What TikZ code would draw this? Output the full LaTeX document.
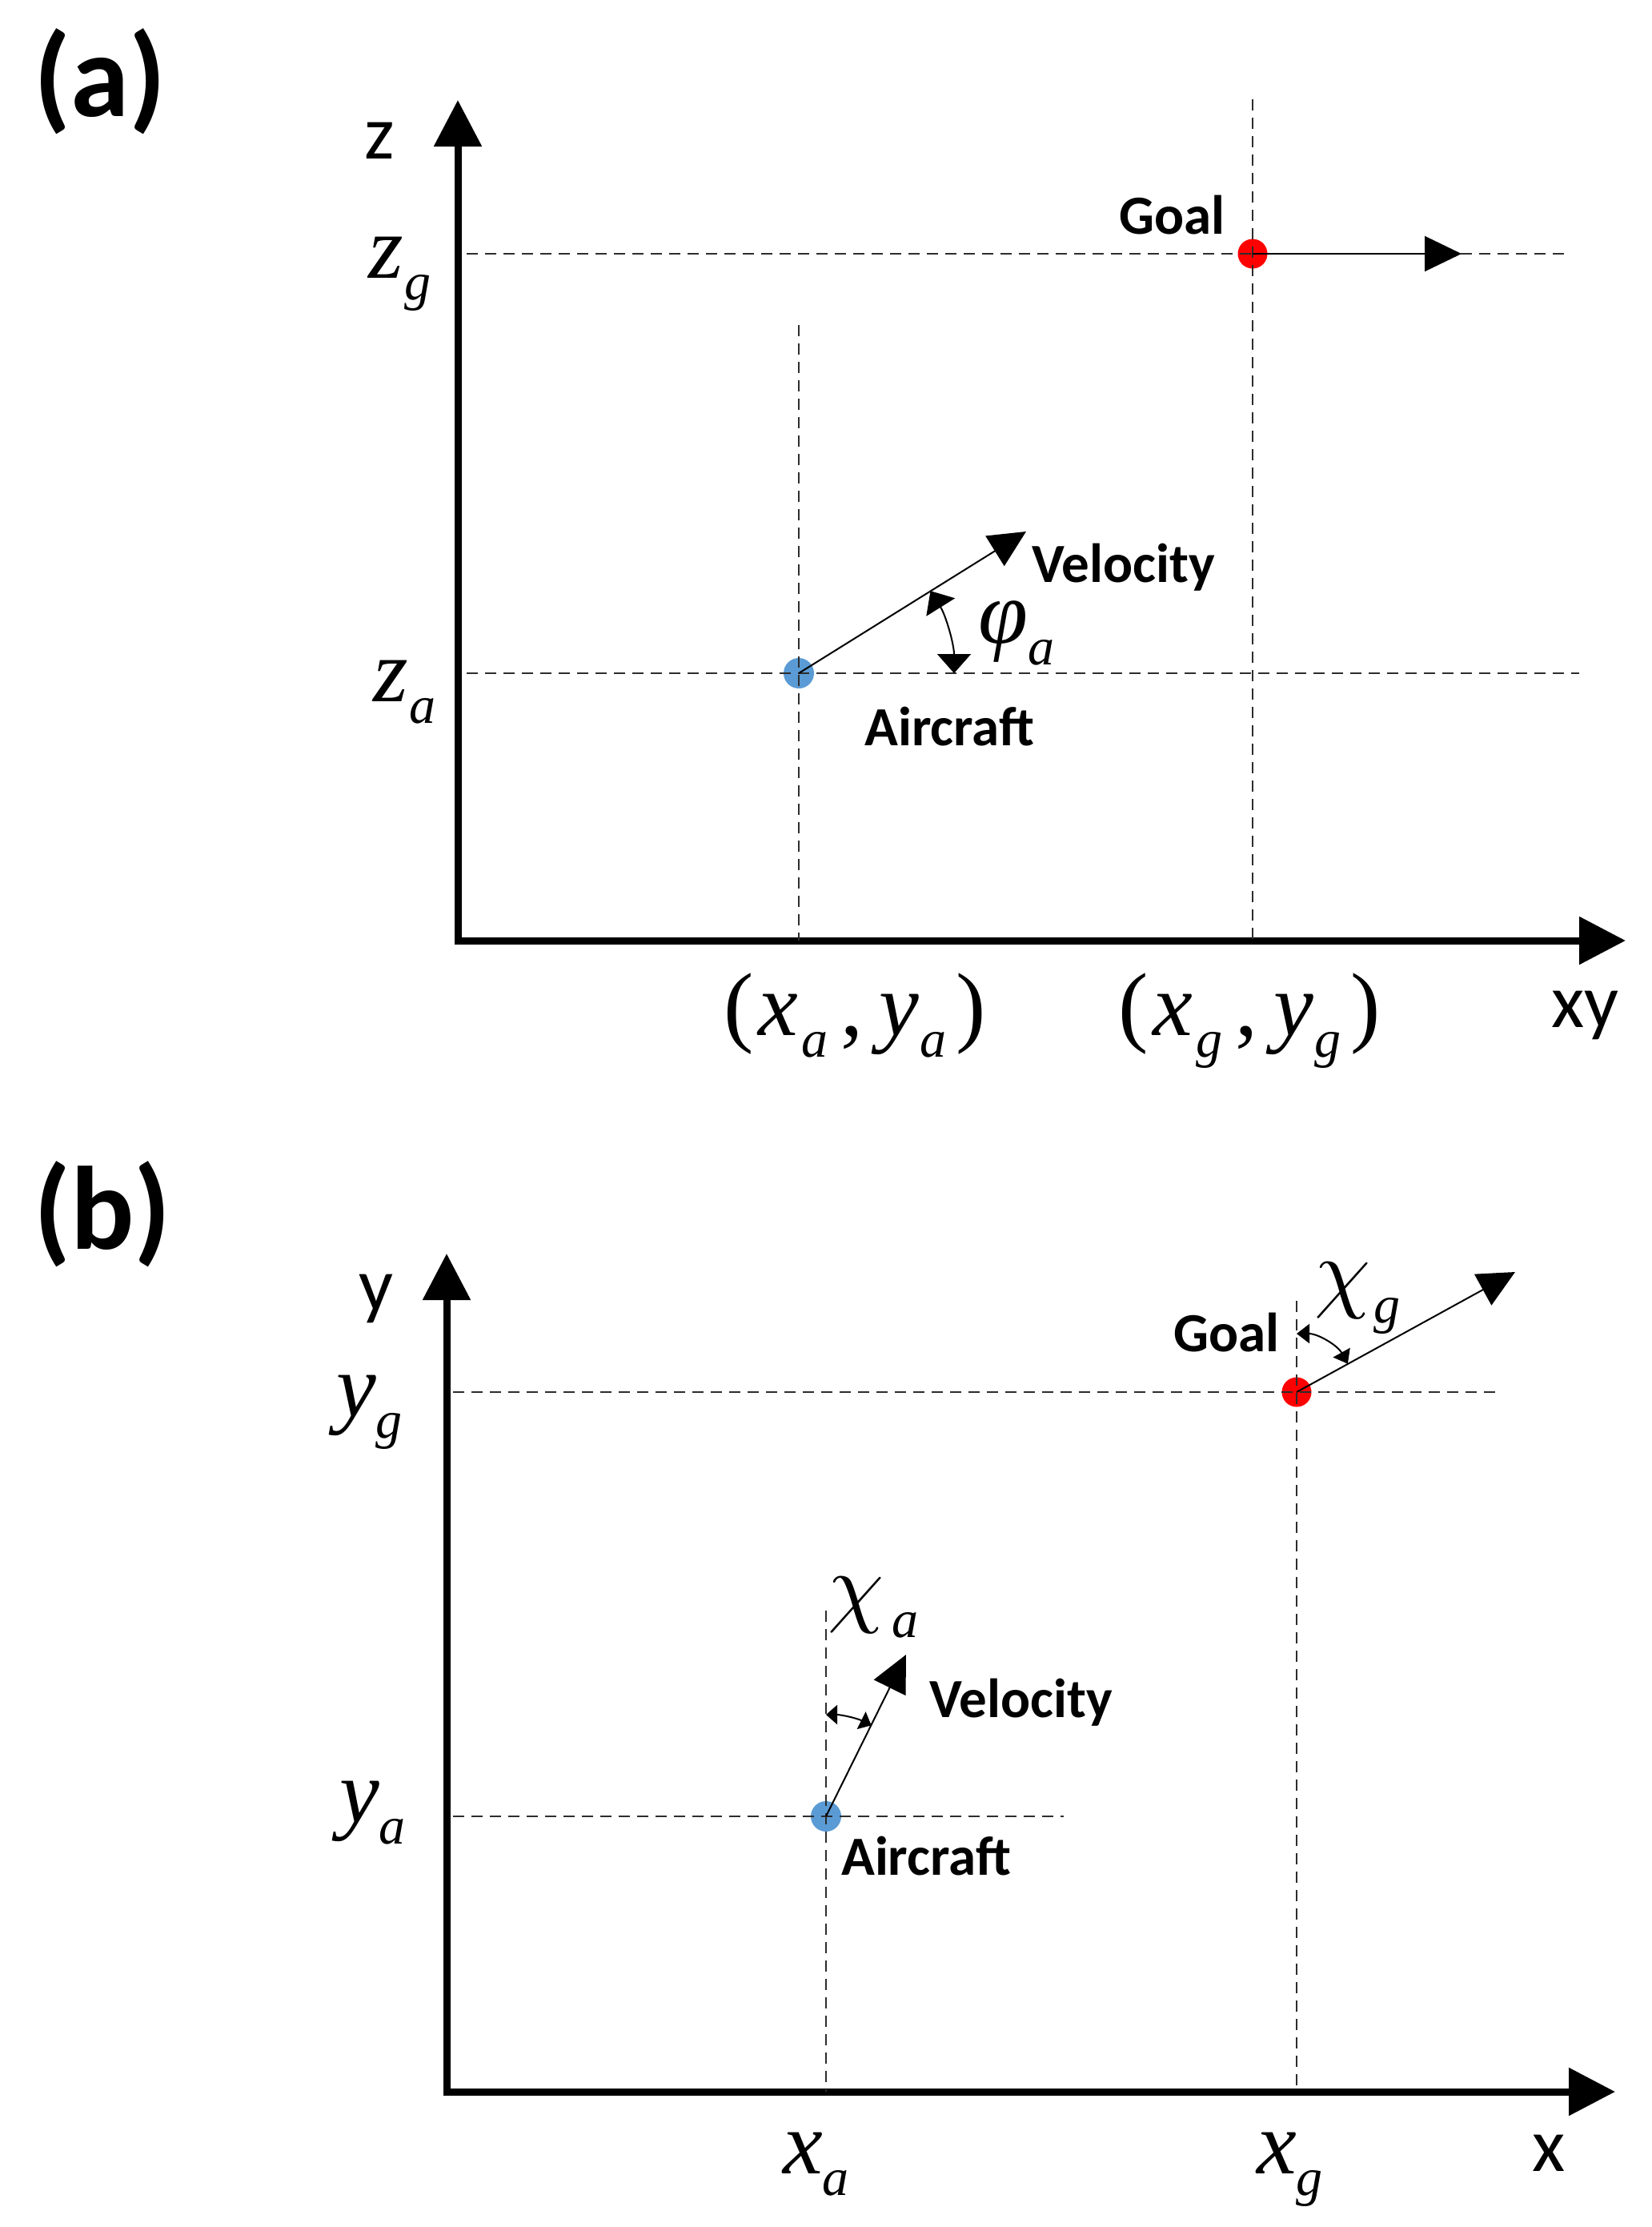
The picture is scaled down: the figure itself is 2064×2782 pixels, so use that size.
\documentclass[tikz,border=0pt]{standalone}
\usepackage{fontspec}
\usetikzlibrary{arrows.meta}
\newfontfamily\calf{Carlito}
\newfontfamily\tmsf{Liberation Serif}
\definecolor{dotblue}{RGB}{91,155,213}
\definecolor{guidegray}{RGB}{45,45,45}
\newcommand\mth[1]{{\fontsize{112}{120}\selectfont\tmsf\itshape #1}}
\newcommand\mup[1]{{\fontsize{112}{120}\selectfont\tmsf #1}}
\newcommand\sbs[1]{\raisebox{-27pt}{\fontsize{66}{70}\selectfont\tmsf\itshape #1}}
\newcommand\chig{\scalebox{11.2}{$\chi$}}
\begin{document}
\begin{tikzpicture}[x=1pt,y=-1pt,
  axis/.style={line width=9pt, line join=miter, {Triangle[length=58pt,width=58pt]}-{Triangle[length=58pt,width=58pt]}},
  guide/.style={guidegray, line width=2.6pt, dash pattern=on 14pt off 9pt},
  vel/.style={line width=2pt, -{Triangle[length=46pt,width=44pt]}},
  ang/.style={line width=2pt},
  lbl/.style={font={\calf\bfseries\fontsize{69}{80}\selectfont}, anchor=base west, inner sep=0pt},
  axl/.style={font={\calf\fontsize{95}{110}\selectfont}, anchor=base west, inner sep=0pt},
  pl/.style={font={\calf\bfseries\fontsize{148}{160}\selectfont}, anchor=base west, inner sep=0pt},
  mlab/.style={anchor=base west, inner sep=0pt},
  reddot/.style={circle, fill=red, minimum size=37pt, inner sep=0pt},
  bluedot/.style={circle, fill=dotblue, minimum size=38pt, inner sep=0pt}]
\useasboundingbox (0,0) rectangle (2064,2782);
\fill[white] (0,0) rectangle (2064,2782);

% ================= panel (a) =================
\node[pl] (pa) at (42,145) {(a)};
\coordinate (oA) at (572,1175);
\coordinate (zTip) at (572,125);
\coordinate (xyTip) at (2031,1175);
\draw[axis] (zTip) -- (oA) -- (xyTip);

\node[reddot] (goalA) at (1565,317) {};
\node[bluedot] (acA) at (998,841) {};

\coordinate (zgL) at (583,317);  \coordinate (zgR) at (1957,317);
\coordinate (zaL) at (583,841);  \coordinate (zaR) at (1973,841);
\coordinate (vaT) at (998,406);  \coordinate (vaB) at (998,1175);
\coordinate (vgT) at (1565,124); \coordinate (vgB) at (1565,1175);
\draw[guide] (zgL) -- (zgR);
\draw[guide] (zaL) -- (zaR);
\draw[guide] (vaT) -- (vaB);
\draw[guide] (vgT) -- (vgB);

\coordinate (goalAtip) at (1826,317);
\coordinate (acAtip) at (1282,664);
\draw[vel] (goalA.center) -- (goalAtip);
\draw[vel] (acA.center) -- (acAtip);
\draw[ang, {Triangle[length=24pt,width=42pt]}-{Triangle[length=24pt,width=42pt]}]
  ([shift={(-32:194)}]acA.center) arc[start angle=-32, end angle=0, radius=194];

\node[axl] (zlab) at (455,198) {z};
\node[mlab] (zglab) at (460,347) {\mth{z}\kern2pt\sbs{g}};
\node[mlab] (zalab) at (466,876) {\mth{z}\kern2pt\sbs{a}};
\node[lbl] (goalAlab) at (1398,292) {Goal};
\node[lbl] (velAlab) at (1289,727) {Velocity};
\node[lbl] (acAlab) at (1080,931) {Aircraft};
\node[mlab] (phlab) at (1222,803) {\mth{φ}\sbs{a}};
\node[mlab] (xyalab) at (904,1293) {\mup{(}\kern6pt\mth{x}\kern4pt\sbs{a}\kern16pt\mup{,}\kern20pt\mth{y}\kern2pt\sbs{a}\kern12pt\mup{)}};
\node[mlab] (xyglab) at (1397,1293) {\mup{(}\kern6pt\mth{x}\kern4pt\sbs{g}\kern16pt\mup{,}\kern20pt\mth{y}\kern2pt\sbs{g}\kern12pt\mup{)}};
\node[axl] (xylab) at (1938,1283) {xy};

% ================= panel (b) =================
\node[pl] (pb) at (42,1560) {(b)};
\coordinate (oB) at (558,2613);
\coordinate (yTip) at (558,1566);
\coordinate (xTip) at (2018,2613);
\draw[axis] (yTip) -- (oB) -- (xTip);

\node[reddot] (goalB) at (1620,1739) {};
\node[bluedot] (acB) at (1032,2269) {};

\coordinate (ygL) at (566,1739);  \coordinate (ygR) at (1868,1739);
\coordinate (yaL) at (566,2269);  \coordinate (yaR) at (1329,2269);
\coordinate (vgbT) at (1620,1625); \coordinate (vgbB) at (1620,2613);
\coordinate (vabT) at (1032,2012); \coordinate (vabB) at (1032,2613);
\draw[guide] (ygL) -- (ygR);
\draw[guide] (yaL) -- (yaR);
\draw[guide] (vgbT) -- (vgbB);
\draw[guide] (vabT) -- (vabB);

\coordinate (goalBtip) at (1893,1589);
\coordinate (acBtip) at (1132,2067);
\draw[vel] (goalB.center) -- (goalBtip);
\draw[vel] (acB.center) -- (acBtip);
\draw[ang, {Triangle[length=16pt,width=24pt]}-{Triangle[length=16pt,width=24pt]}]
  ([shift={(-90:73)}]goalB.center) arc[start angle=-90, end angle=-29, radius=73];
\draw[ang, {Triangle[length=14pt,width=24pt]}-{Triangle[length=14pt,width=24pt]}]
  ([shift={(-90:127)}]acB.center) arc[start angle=-90, end angle=-63.5, radius=127];

\node[axl] (ylab) at (448,1637) {y};
\node[mlab] (yglab) at (420,1769) {\mth{y}\sbs{g}};
\node[lbl] (goalBlab) at (1466,1688) {Goal};
\node[mlab] (chglab) at (1642,1625) {\chig\kern4pt\sbs{g}};
\node[lbl] (velBlab) at (1161,2145) {Velocity};
\node[mlab] (chalab) at (1034,2018) {\chig\kern10pt\sbs{a}};
\node[mlab] (yalab) at (424,2276) {\mth{y}\sbs{a}};
\node[lbl] (acBlab) at (1051,2342) {Aircraft};
\node[mlab] (xalab) at (978,2715) {\mth{x}\sbs{a}};
\node[mlab] (xglab) at (1570,2715) {\mth{x}\sbs{g}};
\node[axl] (xlab) at (1914,2712) {x};
\end{tikzpicture}
\end{document}
